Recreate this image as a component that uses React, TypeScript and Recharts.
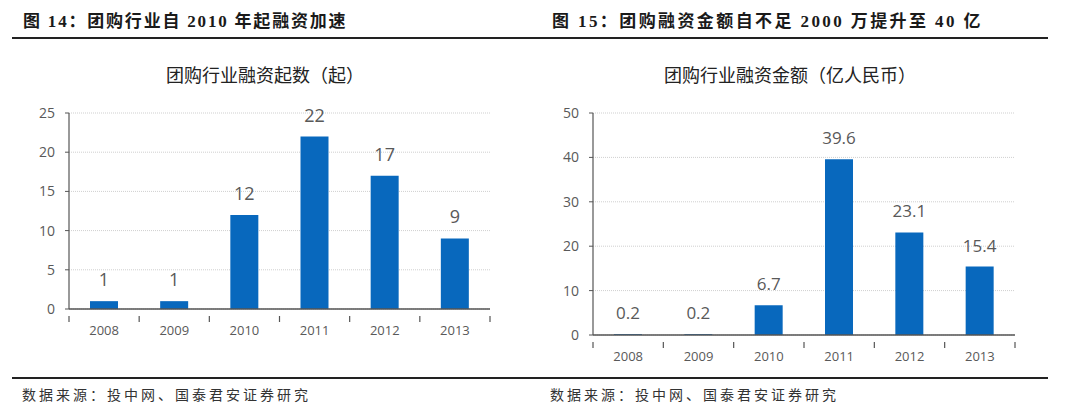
import React from "react";
import { BarChart, Bar, XAxis, YAxis, CartesianGrid, LabelList } from "recharts";

const years = ["2008", "2009", "2010", "2011", "2012", "2013"];
const dealCounts = [1, 1, 12, 22, 17, 9];
const dealAmounts = [0.2, 0.2, 6.7, 39.6, 23.1, 15.4];
const countTicks = [0, 5, 10, 15, 20, 25];
const amountTicks = [0, 10, 20, 30, 40, 50];

const countData = years.map((year, i) => ({ year, value: dealCounts[i] }));
const amountData = years.map((year, i) => ({ year, value: dealAmounts[i] }));

const BLUE = "#0868bd";
const AXIS = "#555555";
const TEXT = "#595959";
const SANS = "'Open Sans', 'Noto Sans', sans-serif";
const CJK = "'Noto Sans CJK SC', sans-serif";
const TITLE_FONT = "'Liberation Serif', 'Noto Sans CJK SC', serif";

const YearTick = (props: any) => {
  const { x, y, payload, index } = props;
  const half = payload.offset || 0;
  const last = index === years.length - 1;
  return (
    <g>
      <line x1={x - half} x2={x - half} y1={y - 1} y2={y + 5} stroke={AXIS} strokeWidth={1.2} />
      {last && <line x1={x + half} x2={x + half} y1={y - 1} y2={y + 5} stroke={AXIS} strokeWidth={1.2} />}
      <text x={x} y={y + 18} textAnchor="middle" fill={TEXT} fontSize={13} fontFamily={SANS}>
        {payload.value}
      </text>
    </g>
  );
};

const Panel = ({ data, ticks, max, left, top, height, marginLeft, marginRight, bottom, labelSize }: any) => (
  <div style={{ position: "absolute", left, top }}>
    <BarChart
      width={540}
      height={height}
      data={data}
      margin={{ top: 23, right: marginRight, bottom, left: 0 }}
      barCategoryGap="30%"
    >
      <CartesianGrid vertical={false} stroke="#cfcfcf" strokeDasharray="1 1" />
      <XAxis
        dataKey="year"
        axisLine={{ stroke: AXIS, strokeWidth: 1.5 }}
        tickLine={false}
        tick={<YearTick />}
        interval={0}
        height={30}
      />
      <YAxis
        domain={[0, max]}
        ticks={ticks}
        width={marginLeft}
        axisLine={{ stroke: AXIS, strokeWidth: 1.2 }}
        tickLine={{ stroke: AXIS }}
        tickSize={4}
        tickMargin={10}
        tick={{ fill: TEXT, fontSize: 14, fontFamily: SANS }}
      />
      <Bar dataKey="value" fill={BLUE} isAnimationActive={false} barSize={28}>
        <LabelList dataKey="value" position="top" offset={15} fill={TEXT} fontSize={labelSize} fontFamily={SANS} />
      </Bar>
    </BarChart>
  </div>
);

const text = (s: React.CSSProperties): React.CSSProperties => ({ position: "absolute", whiteSpace: "nowrap", margin: 0, ...s });

export default function App() {
  return (
    <div style={{ position: "absolute", left: 0, top: 0, width: 1080, height: 419, background: "#fff", overflow: "hidden" }}>
      <div style={text({ left: 23, top: 7, fontFamily: TITLE_FONT, fontWeight: 700, fontSize: 17, letterSpacing: 1.8, color: "#1a1a1a" })}>
        图 14：团购行业自 2010 年起融资加速
      </div>
      <div style={text({ left: 552, top: 7, fontFamily: TITLE_FONT, fontWeight: 700, fontSize: 17, letterSpacing: 2.4, color: "#1a1a1a" })}>
        图 15：团购融资金额自不足 2000 万提升至 40 亿
      </div>
      <div style={{ position: "absolute", left: 12, top: 37, width: 1036, height: 2, background: "#222" }} />

      <div style={text({ left: 0, width: 530, textAlign: "center", top: 61, fontFamily: CJK, fontSize: 18, color: "#222" })}>
        团购行业融资起数（起）
      </div>
      <div style={text({ left: 540, width: 500, textAlign: "center", top: 61, fontFamily: CJK, fontSize: 18, color: "#222" })}>
        团购行业融资金额（亿人民币）
      </div>

      <Panel data={countData} ticks={countTicks} max={25} left={0} top={90} height={260} marginLeft={69} marginRight={50} bottom={11} labelSize={18} />
      <Panel data={amountData} ticks={amountTicks} max={50} left={540} top={90} height={280} marginLeft={53} marginRight={65} bottom={5} labelSize={17} />

      <div style={{ position: "absolute", left: 12, top: 377, width: 1036, height: 2, background: "#222" }} />
      <div style={text({ left: 22, top: 384, fontFamily: TITLE_FONT, fontSize: 14, letterSpacing: 3, color: "#333" })}>
        数据来源：投中网、国泰君安证券研究
      </div>
      <div style={text({ left: 550, top: 384, fontFamily: TITLE_FONT, fontSize: 14, letterSpacing: 3, color: "#333" })}>
        数据来源：投中网、国泰君安证券研究
      </div>
    </div>
  );
}
